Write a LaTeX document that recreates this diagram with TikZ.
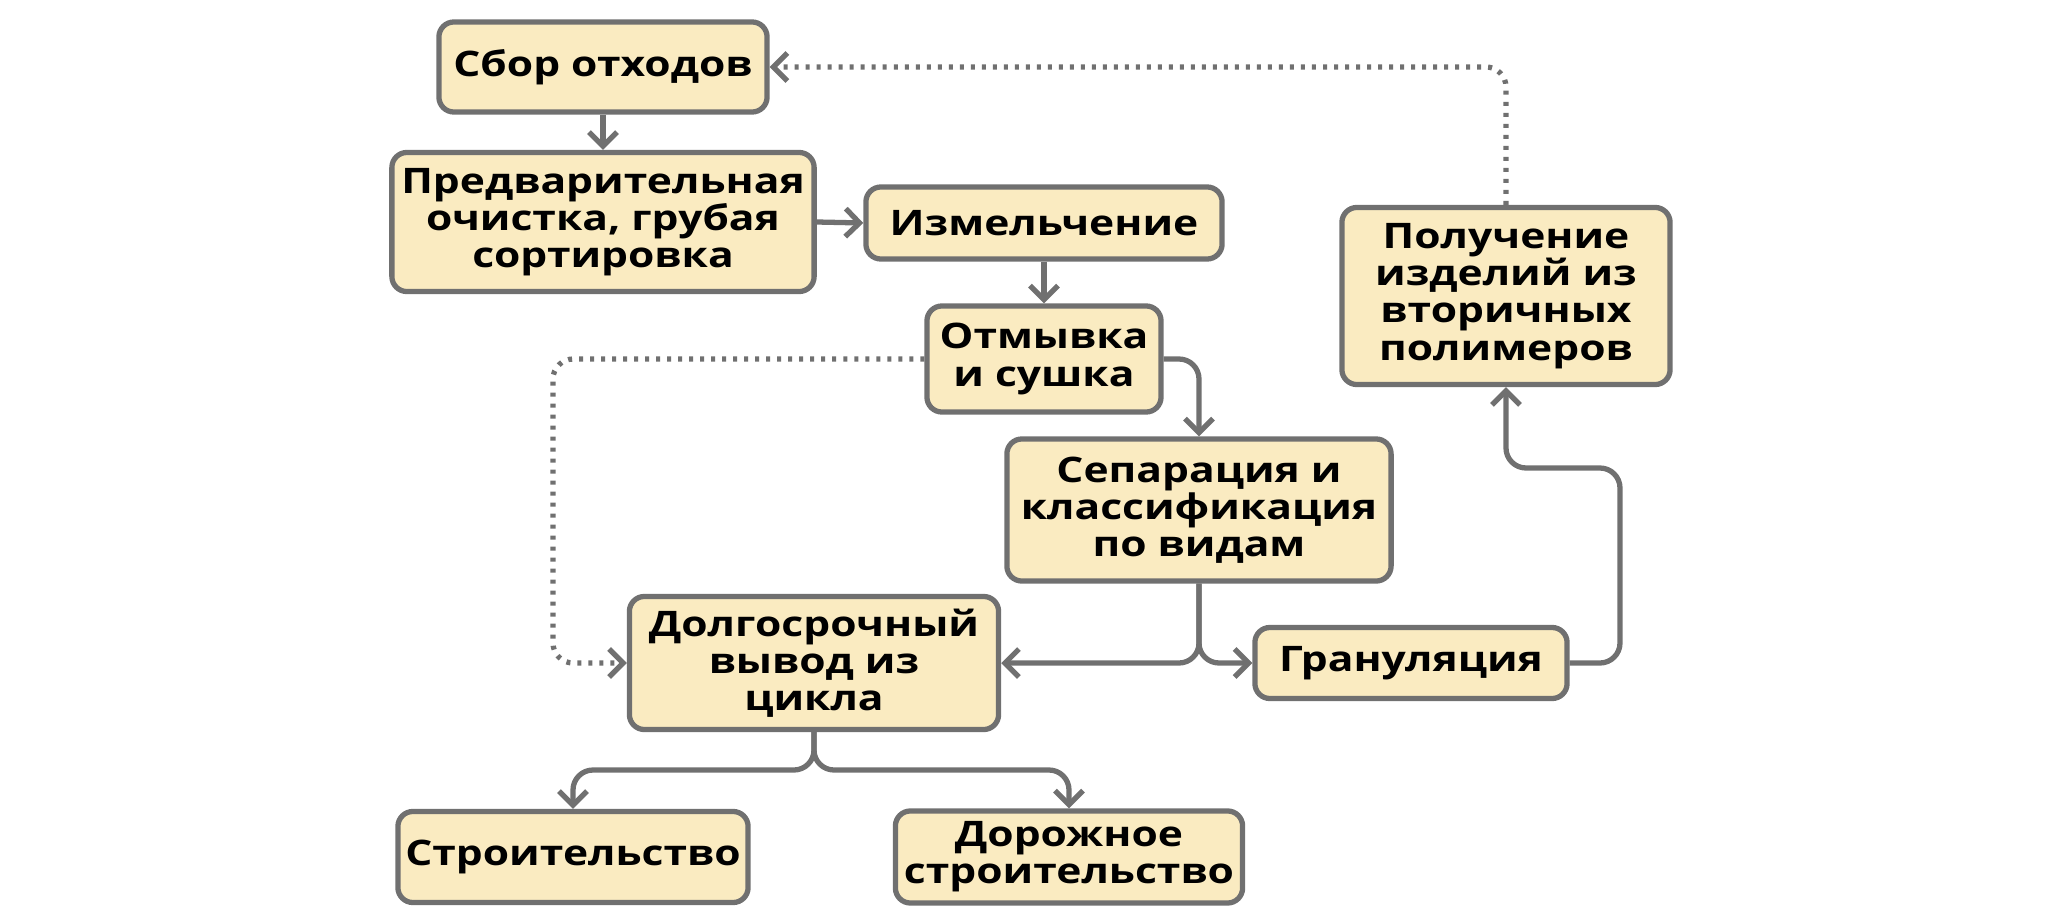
\documentclass[tikz,border=0pt]{standalone}
\usepackage{fontspec}
\setmainfont{Open Sans}[FakeStretch=1.21]
\usetikzlibrary{arrows.meta}
\definecolor{boxfill}{RGB}{250,235,193}
\definecolor{boxline}{RGB}{112,112,112}

\begin{document}
\begin{tikzpicture}[x=0.01cm, y=-0.01cm]

    % --- Grundeinstellungen für Styles ---
    \tikzset{
        % Basis-Stil für alle Kästen
        box/.style={
            draw=boxline,
            fill=boxfill,
            line width=1.5pt,
            rounded corners=0.15cm,
            font=\fontsize{10}{10.6}\selectfont\bfseries,
            align=center,
            inner sep=0pt
        },
        % Stil für Stoffströme
        flow/.style={
            draw=boxline,
            line width=1.5pt,
            rounded corners=0.2cm,
            -{Straight Barb[length=1.4mm, width=2.8mm]}
        },
        % Stil für Rückführung (gepunktet)
        backflow/.style={
            flow,
            dash pattern=on 0.04cm off 0.07cm
        }
    }

    \useasboundingbox (0,0) rectangle (2065,921);

    % --- 1. Prozessschritte ---

    \node[box, minimum width=3.28cm, minimum height=0.90cm] (sbor) at (603, 67) {Сбор отходов};
    \node[box, minimum width=4.22cm, minimum height=1.39cm] (pred) at (603, 222) {Предварительная\\очистка, грубая\\сортировка};
    \node[box, minimum width=3.56cm, minimum height=0.72cm] (izm) at (1044, 223) {Измельчение};
    \node[box, minimum width=2.34cm, minimum height=1.06cm] (otm) at (1044, 359) {Отмывка\\и сушка};
    \node[box, minimum width=3.84cm, minimum height=1.42cm] (sep) at (1199, 510) {Сепарация и\\классификация\\по видам};
    \node[box, minimum width=3.69cm, minimum height=1.33cm] (dolg) at (814, 663) {Долгосрочный\\вывод из\\цикла};
    \node[box, minimum width=3.12cm, minimum height=0.71cm] (gran) at (1411, 663) {Грануляция};
    \node[box, minimum width=3.28cm, minimum height=1.77cm] (poluch) at (1506, 296) {Получение\\изделий из\\вторичных\\полимеров};
    \node[box, minimum width=3.50cm, minimum height=0.91cm] (stroi) at (573, 857) {Строительство};
    \node[box, minimum width=3.47cm, minimum height=0.92cm] (dor) at (1069, 857) {Дорожное\\строительство};

    % Hilfspunkte für Knicke
    \coordinate (left) at (553, 500);
    \coordinate (loop) at (1620, 468);
    \coordinate (fork) at (814, 770);

    % --- 2. Verbindungen (Pfeile) ---

    \draw[flow] (sbor.south) -- (pred.north);
    \draw[flow] (pred.east) -- (izm.west);
    \draw[flow] (izm.south) -- (otm.north);
    \draw[flow] (otm.east) -| (sep.north);

    % Aufteilung nach der Separation
    \draw[flow] (sep.south) |- (dolg.east);
    \draw[flow] (sep.south) |- (gran.west);

    % Granulat zu Produkten
    \draw[flow] (gran.east) -| (loop) -| (poluch.south);

    % Langfristige Nutzung
    \draw[flow] (dolg.south) -- (fork) -| (stroi.north);
    \draw[flow] (dolg.south) -- (fork) -| (dor.north);

    % Rückführung (gepunktet)
    \draw[backflow] (otm.west) -| (left) |- (dolg.west);
    \draw[backflow] (poluch.north) |- (sbor.east);

\end{tikzpicture}
\end{document}
